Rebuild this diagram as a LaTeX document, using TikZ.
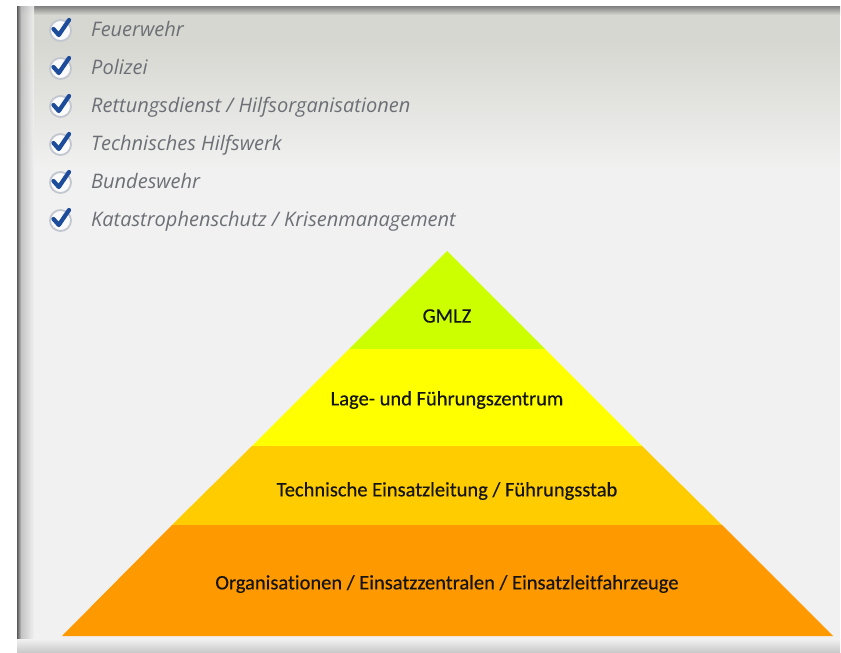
\documentclass[tikz,border=0pt]{standalone}
\usepackage{fontspec}
\setmainfont[Ligatures=NoCommon]{Carlito}
\newfontfamily\layerfont[Ligatures=NoCommon, FakeBold=0.4]{Carlito}
\newfontfamily\listfont{Open Sans}
\usetikzlibrary{calc}
\definecolor{lime}{HTML}{CCFF00}
\definecolor{yel}{HTML}{FFFF00}
\definecolor{gold}{HTML}{FFCC00}
\definecolor{orng}{HTML}{FF9900}
\definecolor{listgray}{HTML}{6C6F75}
\definecolor{checkblue}{HTML}{1D4C9A}
\definecolor{ringgray}{HTML}{C2C6CE}
\definecolor{panelbg}{HTML}{F1F1F1}
\definecolor{paneltop}{HTML}{D6D7D0}
\tikzset{
  layertext/.style={font=\layerfont\fontsize{20.5}{24}\selectfont, text=black!92, inner sep=0pt},
  listtext/.style={font=\listfont\itshape\fontsize{20}{24}\selectfont, text=listgray, anchor=base west, inner sep=0pt},
  ring/.style={draw=ringgray, line width=1.8pt, fill=white!70!panelbg},
  tick/.style={draw=checkblue, line width=4.2pt, line cap=round, line join=round},
}
\newcommand{\checkitem}[3]{%
  \node[ring, circle, minimum size=21pt, inner sep=0pt] (c#1) at (60.5,#2+1.5) {};
  \draw[tick] ($(c#1.center)+(-7,-1.5)$) -- ($(c#1.center)+(-1.7,4.5)$) -- ($(c#1.center)+(8.5,-10.5)$);
  \node[listtext] (t#1) at (91,#2+7) {#3};
}
\begin{document}
\begin{tikzpicture}[x=1pt,y=-1pt]
\useasboundingbox (0,0) rectangle (841,653);
\fill[white] (0,0) rectangle (841,653);
% panel
\fill[panelbg] (17,6) rectangle (840,653);
\shade[top color=paneltop, bottom color=panelbg] (17,40) rectangle (840,170);
\fill[paneltop] (17,14) rectangle (840,40);
\shade[top color=black!50, bottom color=paneltop] (17,6) rectangle (840,15);
\shade[left color=black!65, right color=black!25] (17,6) rectangle (21,653);
\shade[left color=black!25, right color=panelbg, opacity=0.9] (21,6) rectangle (34,653);
\shade[top color=panelbg, bottom color=black!22] (17,639) rectangle (840,653);
% list
\checkitem{1}{29}{Feuerwehr}
\checkitem{2}{67}{Polizei}
\checkitem{3}{105}{Rettungsdienst / Hilfsorganisationen}
\checkitem{4}{143}{Technisches Hilfswerk}
\checkitem{5}{181}{Bundeswehr}
\checkitem{6}{219}{Katastrophenschutz / Krisenmanagement}
% pyramid
\coordinate (apex) at (447,251);
\fill[lime] (apex) -- (545,349) -- (349,349) -- cycle;
\fill[yel] (349,349) -- (545,349) -- (642,446) -- (252,446) -- cycle;
\fill[gold] (252,446) -- (642,446) -- (722,525) -- (172,525) -- cycle;
\fill[orng] (172,525) -- (722,525) -- (833,636) -- (62,636) -- cycle;
\node[layertext] (l1) at (447,316) {GMLZ};
\node[layertext] (l2) at (447,400) {Lage- und Führungszentrum};
\node[layertext] (l3) at (447,491) {Technische Einsatzleitung / Führungsstab};
\node[layertext] (l4) at (447,584) {Organisationen / Einsatzzentralen / Einsatzleitfahrzeuge};
\end{tikzpicture}
\end{document}
